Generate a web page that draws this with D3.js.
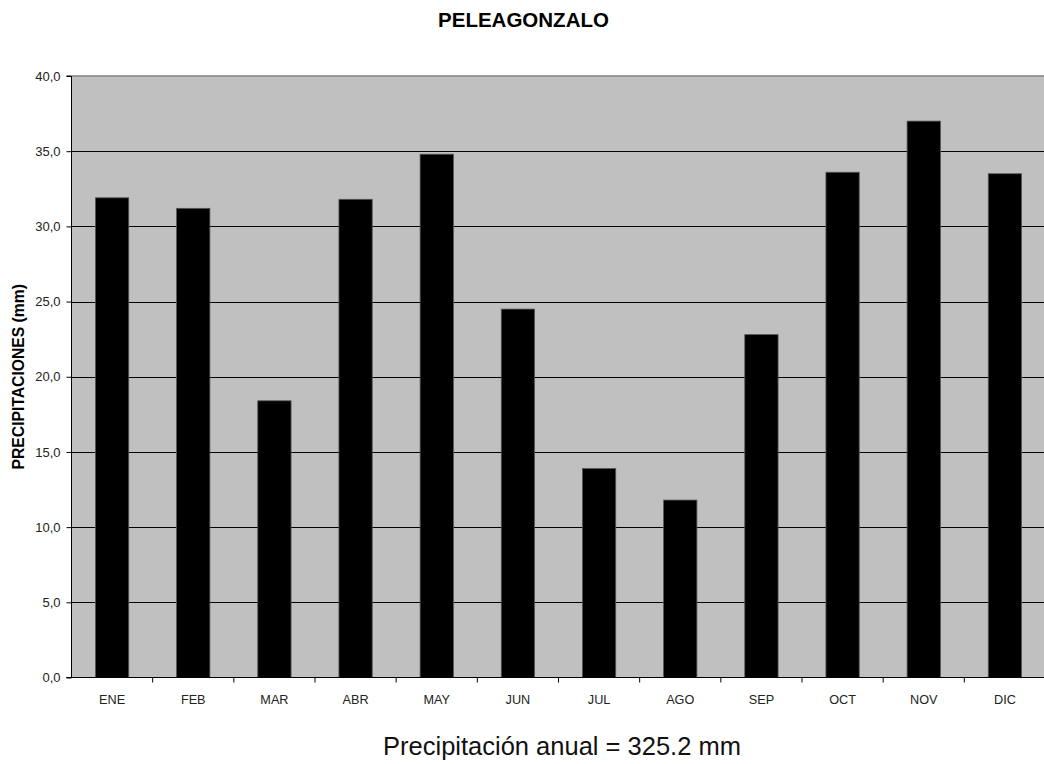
<!DOCTYPE html>
<html>
<head>
<meta charset="utf-8">
<script src="https://cdn.jsdelivr.net/npm/d3@7"></script>
<style>
  body { margin: 0; background: #fff; }
  svg { display: block; font-family: "Liberation Sans", Arial, sans-serif; }
</style>
</head>
<body>
<script>
// monthly data
var months = ["ENE","FEB","MAR","ABR","MAY","JUN","JUL","AGO","SEP","OCT","NOV","DIC"];
var precip = [31.9, 31.2, 18.4, 31.8, 34.8, 24.5, 13.9, 11.8, 22.8, 33.6, 37.0, 33.5];
var yTicks = [0, 5, 10, 15, 20, 25, 30, 35, 40];
var chartTitle = "PELEAGONZALO";
var yTitle = "PRECIPITACIONES (mm)";
var footer = "Precipitación anual = 325.2 mm";

var W = 1044, H = 764;
// note: "top" is reserved on window, so use plot* names
var plotLeft = 71.5, plotRight = 1045.5, plotTop = 76, plotBottom = 677.5;

var svg = d3.select("body").append("svg")
    .attr("width", W)
    .attr("height", H);

var x = d3.scaleBand().domain(months).range([plotLeft, plotRight]).padding(0);
var y = d3.scaleLinear().domain([0, 40]).range([plotBottom, plotTop]);

// plot background
svg.append("rect")
    .attr("x", plotLeft).attr("y", plotTop)
    .attr("width", plotRight - plotLeft).attr("height", plotBottom - plotTop)
    .attr("fill", "#c0c0c0");

// gridlines
svg.append("g").selectAll("line")
    .data(yTicks.filter(function(d){ return d > 0 && d < 40; }))
    .enter().append("line")
    .attr("x1", plotLeft).attr("x2", plotRight)
    .attr("y1", function(d){ return Math.round(y(d)) + 0.5; })
    .attr("y2", function(d){ return Math.round(y(d)) + 0.5; })
    .attr("stroke", "#000").attr("stroke-width", 1);

// top border
svg.append("line")
    .attr("x1", plotLeft).attr("x2", plotRight)
    .attr("y1", plotTop).attr("y2", plotTop)
    .attr("stroke", "#808080").attr("stroke-width", 1.5);

// bars
var bw = x.bandwidth();
svg.append("g").selectAll("rect")
    .data(precip)
    .enter().append("rect")
    .attr("x", function(d, i){ return x(months[i]) + bw * 0.295; })
    .attr("width", bw * 0.41)
    .attr("y", function(d){ return y(d); })
    .attr("height", function(d){ return plotBottom - y(d); })
    .attr("fill", "#000")
    .attr("stroke", "#555")
    .attr("stroke-width", 0.8);

// y axis
var yAxis = d3.axisLeft(y)
    .tickValues(yTicks)
    .tickSize(5)
    .tickPadding(6)
    .tickFormat(function(d){ return d.toFixed(1).replace(".", ","); });
var gy = svg.append("g")
    .attr("transform", "translate(" + plotLeft + ",0)")
    .call(yAxis);
gy.selectAll("text").attr("font-size", 13).attr("fill", "#222").attr("font-family", "Liberation Sans, Arial, sans-serif");
gy.selectAll("line, path").attr("stroke", "#000");
gy.select(".domain").attr("d", "M-5," + plotTop + "H0V" + plotBottom + "H-5");

// x axis: ticks at category boundaries
var gx = svg.append("g");
gx.append("line")
    .attr("x1", plotLeft - 5).attr("x2", plotRight)
    .attr("y1", plotBottom).attr("y2", plotBottom)
    .attr("stroke", "#000");
gx.selectAll("line.tk")
    .data(months.slice(1))
    .enter().append("line")
    .attr("class", "tk")
    .attr("x1", function(d){ return x(d); })
    .attr("x2", function(d){ return x(d); })
    .attr("y1", plotBottom).attr("y2", plotBottom + 5)
    .attr("stroke", "#000");
gx.selectAll("text")
    .data(months)
    .enter().append("text")
    .attr("x", function(d){ return x(d) + bw / 2; })
    .attr("y", 704)
    .attr("text-anchor", "middle")
    .attr("font-size", 12.7)
    .attr("fill", "#222")
    .text(function(d){ return d; });

// titles
svg.append("text")
    .attr("x", 523.5).attr("y", 27)
    .attr("text-anchor", "middle")
    .attr("font-size", 20.5)
    .attr("font-weight", "bold")
    .text(chartTitle);

svg.append("text")
    .attr("transform", "translate(24," + ((plotTop + plotBottom) / 2) + ") rotate(-90)")
    .attr("text-anchor", "middle")
    .attr("font-size", 15.7)
    .attr("font-weight", "bold")
    .text(yTitle);

svg.append("text")
    .attr("x", 562).attr("y", 755)
    .attr("text-anchor", "middle")
    .attr("font-size", 25.5)
    .attr("fill", "#111")
    .text(footer);
</script>
</body>
</html>
